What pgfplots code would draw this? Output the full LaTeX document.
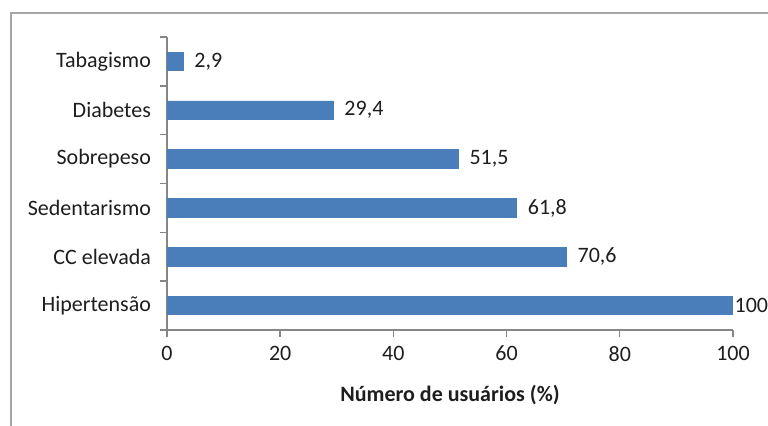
\documentclass[border=0pt]{standalone}
\usepackage{fontspec}
\setmainfont{Carlito}
\usepackage{pgfplots}
\pgfplotsset{compat=1.18}
\definecolor{barblue}{HTML}{4A7EBB}
\definecolor{axgray}{HTML}{868686}
\definecolor{framegray}{HTML}{A6A6A6}
\definecolor{txt}{HTML}{1E1E1E}
\begin{document}
\begin{tikzpicture}[font=\fontsize{11}{13}\selectfont]
\useasboundingbox (-83.5pt,-47.5pt) rectangle (300.5pt,165pt);
\draw[framegray,line width=1pt] (-78pt,-60pt) -- (-78pt,158.5pt) -- (320pt,158.5pt);
\begin{axis}[
  at={(0,0)}, anchor=south west,
  scale only axis, width=283pt, height=146.5pt,
  xbar, bar width=9.3pt, bar shift=0pt,
  xmin=0, xmax=100, ymin=-0.5, ymax=5.5,
  axis lines*=left,
  axis line style={axgray, line width=0.7pt},
  xtick={0,20,40,60,80,100},
  ytick={-0.5,0.5,1.5,2.5,3.5,4.5},
  yticklabels={Hipertensão, CC elevada, Sedentarismo, Sobrepeso, Diabetes, Tabagismo},
  extra y ticks={5.5}, extra y tick labels={},
  yticklabel style={yshift=12.2pt, xshift=-1pt, text=txt},
  xticklabel style={text=txt, yshift=-1pt},
  tick align=outside, major tick length=3.5pt,
  tick style={axgray, line width=0.7pt},
  /pgf/number format/assume math mode=true,
  xlabel={\textbf{Número de usuários (\%)}},
  xlabel style={text=txt, yshift=-5pt},
  point meta=explicit symbolic,
  nodes near coords,
  every node near coord/.append style={text=txt, anchor=west},
]
\addplot[fill=barblue, draw=barblue, nodes near coords style={xshift=2pt}] coordinates {(70.6,1) [70,6] (61.8,2) [61,8] (51.5,3) [51,5] (29.4,4) [29,4] (2.9,5) [2,9]};
\addplot[fill=barblue, draw=barblue, nodes near coords style={xshift=-2.7pt}] coordinates {(100,0) [100]};
\end{axis}
\end{tikzpicture}
\end{document}
